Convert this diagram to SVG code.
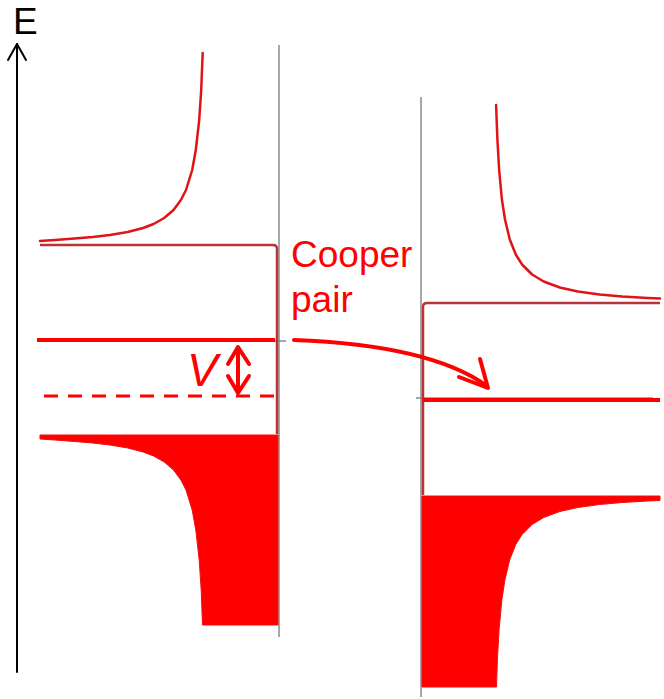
<svg xmlns="http://www.w3.org/2000/svg" width="664" height="699" viewBox="0 0 664 699">
<defs>
<style>
.axis{stroke:#000;stroke-width:2;fill:none;stroke-linecap:round;stroke-linejoin:round}
.gray{stroke:#8a8a8a;stroke-width:1.5;fill:none}
.dos{stroke:#e01414;stroke-width:2.5;fill:none;stroke-linejoin:round;stroke-linecap:round}
.edge{stroke:#b8343a;stroke-width:2.5;fill:none;stroke-linejoin:round}
.fill{fill:#ff0000;stroke:#f01010;stroke-width:1}
.level{stroke:#ff0000;stroke-width:4;fill:none}
.dash{stroke:#ff0000;stroke-width:3;fill:none;stroke-dasharray:14 10}
.arr{stroke:#ff0000;stroke-width:4;fill:none;stroke-linecap:round;stroke-linejoin:round}
.lbl{font-family:"Liberation Sans",Arial,sans-serif;fill:#ff0000}
</style>
</defs>
<rect width="664" height="699" fill="#fff"/>

<g id="energy-axis">
<line class="axis" x1="17" y1="44" x2="17" y2="672"/>
<polyline class="axis" points="8,60 17,44 26,60"/>
<text x="13" y="34" font-family="'Liberation Sans',Arial,sans-serif" font-size="37" fill="#000">E</text>
</g>

<g id="left-superconductor">
<line class="gray" x1="279" y1="45" x2="279" y2="637"/>
<line class="gray" x1="272" y1="341" x2="286" y2="341"/>
<polyline class="dos" points="202.7,53 201.2,90 199.2,120 195.8,150 192.2,170 186,190 180.9,200 173.5,210 164.2,218 153.6,224 143.1,228 127.7,232 109.9,235 92.7,237 74.5,238.5 55,240 40,241"/>
<path class="edge" d="M40,245 L273,245 Q277,245 277,249 L277,434"/>
<path class="fill" d="M40,435 L278,435 L278,625 L202.5,625 L201.2,590 L199.2,560 L195.8,530 L192.2,510 L186,490 L180.9,480 L173.5,470 L164.2,462 L153.6,456 L143.1,452 L127.7,448 L109.9,445 L92.7,443 L74.5,441.5 L55,440 L40,439 Z"/>
<line class="level" x1="37" y1="340" x2="275" y2="340"/>
<line class="dash" x1="44" y1="396" x2="280" y2="396"/>
</g>

<g id="right-superconductor">
<line class="gray" x1="421" y1="97" x2="421" y2="697"/>
<line class="gray" x1="416" y1="398" x2="653" y2="398"/>
<polyline class="dos" points="496.1,105 497.4,139.5 499.1,169.5 501.9,199.5 505,219.5 509.8,239.5 515.8,254.5 522.1,264.5 532.1,274.5 543.7,281.5 559.8,287.5 577.9,291.5 599.5,294.5 622.3,296.5 647.5,298 660,298.5"/>
<path class="edge" d="M660,303 L427,303 Q423,303 423,307 L423,495"/>
<path class="fill" d="M422,496 L660,496 L660,500.5 L647.5,501 L622.3,502.5 L599.5,504.5 L577.9,507.5 L559.8,511.5 L543.7,517.5 L532.1,524.5 L522.1,534.5 L515.8,544.5 L509.8,559.5 L505,579.5 L501.9,599.5 L499.1,629.5 L497.4,659.5 L496.5,687 L422,687 Z"/>
<line class="level" x1="423" y1="400" x2="660" y2="400"/>
</g>

<g id="bias-label">
<text class="lbl" x="187" y="386" font-size="46" font-style="italic">V</text>
</g>

<g id="cooper-label">
<text class="lbl" x="291" y="267" font-size="37">Cooper</text>
<text class="lbl" x="291" y="312" font-size="37">pair</text>
</g>

<g id="connectors">
<line class="arr" x1="238" y1="349" x2="238" y2="391"/>
<polyline class="arr" points="228,364 238,347 249,364"/>
<polyline class="arr" points="228,376 238,393 249,376"/>
<path class="arr" d="M294,340 Q430,345 487,386"/>
<polyline class="arr" points="480,359 488,388 459,377"/>
</g>
</svg>
